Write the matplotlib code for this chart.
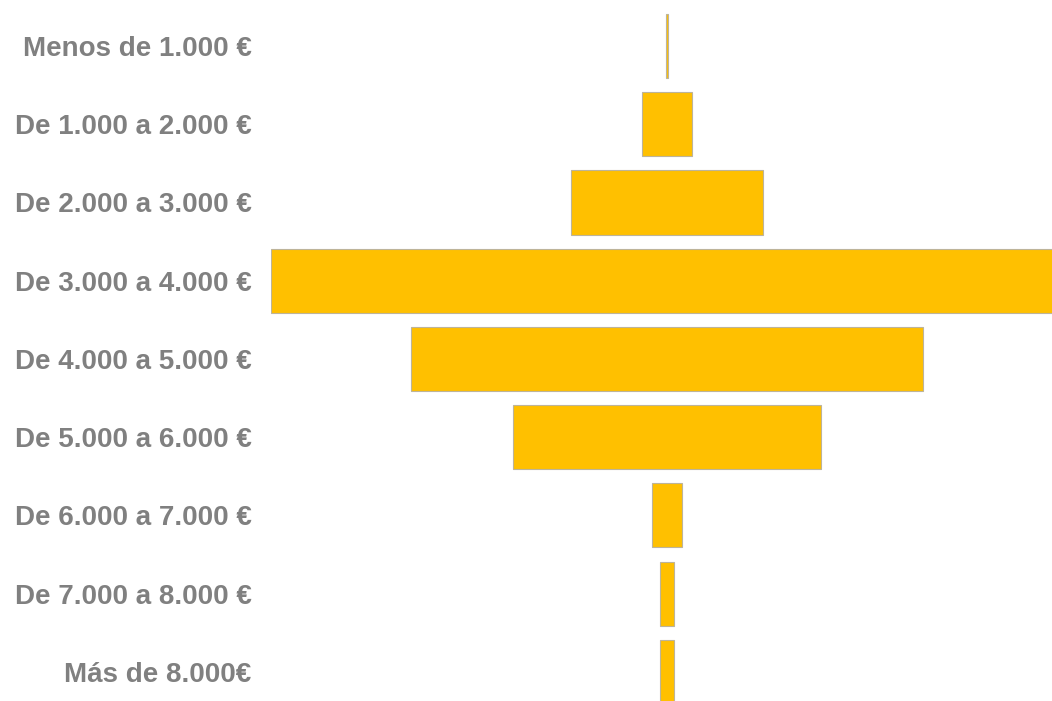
import matplotlib
matplotlib.use("Agg")
import matplotlib.pyplot as plt
import numpy as np

# income brackets and share (%) in each, top to bottom
categories = ["Menos de 1.000 €", "De 1.000 a 2.000 €", "De 2.000 a 3.000 €",
              "De 3.000 a 4.000 €", "De 4.000 a 5.000 €", "De 5.000 a 6.000 €",
              "De 6.000 a 7.000 €", "De 7.000 a 8.000 €", "Más de 8.000€"]
shares = [0.1, 2.6, 10.0, 41.4, 26.8, 16.1, 1.6, 0.7, 0.7]

plt.rcParams['font.family'] = ['Liberation Sans', 'DejaVu Sans']

W, H = 1052, 701
fig = plt.figure(figsize=(W / 100, H / 100), dpi=100)
# axes run past the right and bottom edges, like the cropped original
left_px, right_px = 271, 1063
top_px, bottom_px = 6.9, 711
ax = fig.add_axes([left_px / W, (H - bottom_px) / H,
                   (right_px - left_px) / W, (bottom_px - top_px) / H])

y = np.arange(len(categories))
vals = np.array(shares)
ax.barh(y, vals, left=-vals / 2, height=0.82, color="#FFC000",
        edgecolor="#BDB49A", linewidth=0.8)

half = max(shares) / 2
ax.set_xlim(-half, half)
ax.set_ylim(len(categories) - 0.5, -0.5)
ax.set_yticks(y)
ax.set_yticklabels(categories, fontsize=20, fontweight="bold", color="#808080")
ax.tick_params(axis="y", length=0, pad=14)
ax.set_xticks([])
for s in ax.spines.values():
    s.set_visible(False)

fig.savefig("out.png", dpi=100)
